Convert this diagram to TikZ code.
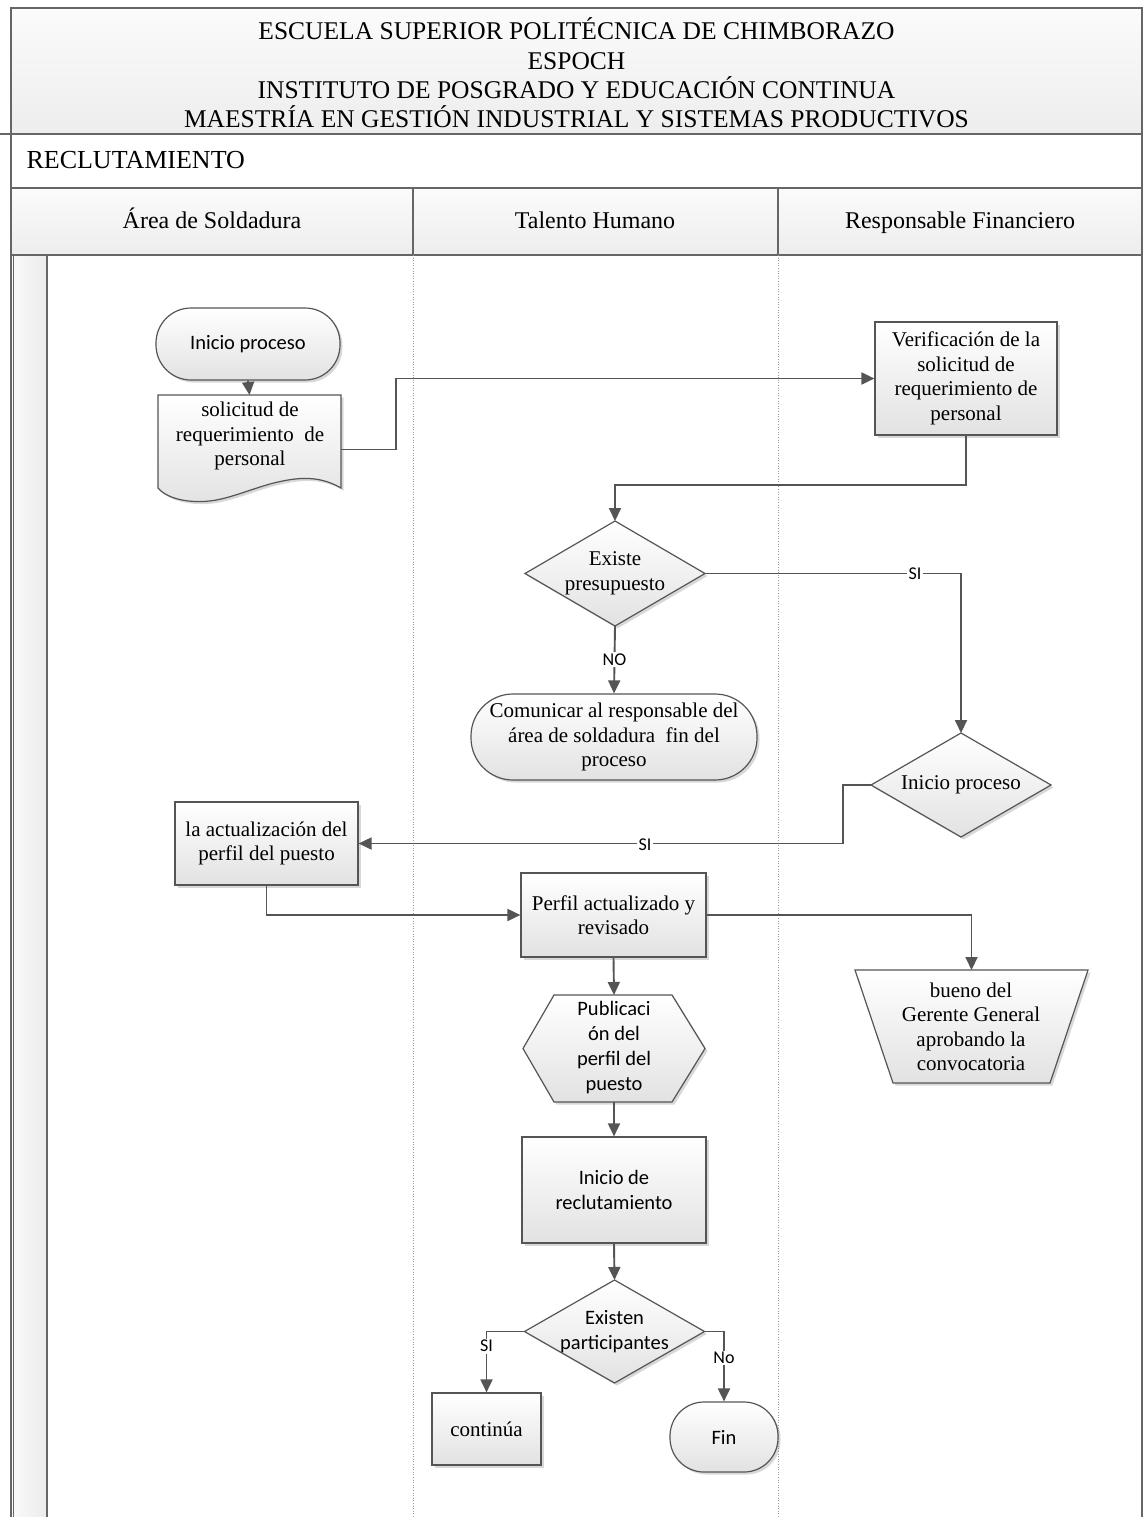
\documentclass[tikz,border=0pt]{standalone}
\usepackage{fontspec}
\setmainfont{Liberation Serif}
\newfontfamily\carl{Carlito}
\usetikzlibrary{arrows.meta,shapes.geometric,shadows,calc}
\definecolor{lc}{HTML}{555555}
\definecolor{fr}{HTML}{666666}
\definecolor{shc}{HTML}{E2E2E2}
\newcommand\mysr{\fontsize{21}{24.5}\selectfont}
\newcommand\myss{\carl\fontsize{20.5}{25}\selectfont}
\begin{document}
\begin{tikzpicture}[x=1pt,y=-1pt,
  frame/.style={draw=fr,line width=1.4pt},
  dotline/.style={draw=gray!80,line width=1pt,dash pattern=on 1pt off 1.6pt},
  shp/.style={draw=lc,line width=1.2pt,top color=white,bottom color=shc,
    drop shadow={opacity=0.3,shadow xshift=2.5pt,shadow yshift=-2.5pt,fill=gray}},
  boxs/.style={shp,rectangle,align=center,inner sep=2pt,font=\mysr},
  ghost/.style={rectangle,draw=none,inner sep=0pt,outer sep=0pt},
  txt/.style={align=center,inner sep=0pt},
  conn/.style={draw=lc,line width=1.9pt,-{Triangle[length=13pt,width=12pt]}},
  lbl/.style={fill=white,inner sep=1.5pt,font=\carl\fontsize{18}{18}\selectfont},
  hdr/.style={anchor=base,font=\fontsize{24}{24}\selectfont}
]
\useasboundingbox (0,0) rectangle (1144,1517);
\fill[white] (0,0) rectangle (1144,1517);
% frame and header
\shade[top color=gray!3,bottom color=gray!14] (11,8) rectangle (1142,134);
\shade[top color=gray!3,bottom color=gray!14] (11,188) rectangle (1142,255);
\shade[left color=gray!4,right color=gray!15] (11,255) rectangle (47,1517);
\draw[frame] (11,1517) -- (11,8) -- (1142,8) -- (1142,1517);
\draw[frame] (0,134) -- (1142,134);
\draw[frame] (11,188) -- (1142,188);
\draw[frame] (11,255) -- (1142,255);
\draw[frame] (413,188) -- (413,255);
\draw[frame] (778,188) -- (778,255);
\draw[frame] (47,255) -- (47,1517);
\draw[frame,line width=0.8pt] (13.5,255) -- (13.5,1517);
\draw[dotline] (413,255) -- (413,1517);
\draw[dotline] (778,255) -- (778,1517);
\node[align=center,font=\fontsize{25.5}{29.3}\selectfont] (title) at (576.5,73)
 {ESCUELA SUPERIOR POLITÉCNICA DE CHIMBORAZO\\ESPOCH\\INSTITUTO DE POSGRADO Y EDUCACIÓN CONTINUA\\MAESTRÍA EN GESTIÓN INDUSTRIAL Y SISTEMAS PRODUCTIVOS};
\node[anchor=base west,font=\fontsize{26}{26}\selectfont] (proc) at (23,169) {RECLUTAMIENTO};
\node[hdr] (lane1) at (212,229) {Área de Soldadura};
\node[hdr] (lane2) at (595,229) {Talento Humano};
\node[hdr] (lane3) at (960,229) {Responsable Financiero};

% nodes
\node[boxs,font=\myss,minimum width=184pt,minimum height=72pt,rounded corners=35pt] (ini) at (248,344) {Inicio proceso};
\node[ghost,minimum width=183pt,minimum height=93pt] (doc) at (249.5,441.5) {};
\path[shp] (doc.north west) -- (doc.north east) -- (doc.south east)
  .. controls (320,476) and (300,476) .. (270,484)
  .. controls (235,494) and (215,506) .. (182,500)
  .. controls (172,498) and (163,494) .. (doc.south west) -- cycle;
\node[txt,font=\mysr] (docT) at (250,436) {solicitud de\\requerimiento~ de\\personal};
\node[boxs,minimum width=182pt,minimum height=113pt] (verif) at (966,378.5) {Verificación de la\\solicitud de\\requerimiento de\\personal};
\node[ghost,minimum width=180pt,minimum height=105pt] (d1) at (615,573.5) {};
\path[shp] (d1.north) -- (d1.east) -- (d1.south) -- (d1.west) -- cycle;
\node[txt,font=\mysr] (d1T) at (d1) {Existe\\presupuesto};
\node[boxs,minimum width=286pt,minimum height=86pt,rounded corners=42pt] (com) at (614,737) {Comunicar al responsable del\\área de soldadura~ fin del\\proceso};
\node[ghost,minimum width=180pt,minimum height=104pt] (d2) at (961,785) {};
\path[shp] (d2.north) -- (d2.east) -- (d2.south) -- (d2.west) -- cycle;
\node[txt,font=\mysr] (d2T) at (d2) {Inicio proceso};
\node[boxs,minimum width=183pt,minimum height=83pt] (act) at (266.5,843.5) {la actualización del\\perfil del puesto};
\node[boxs,minimum width=185pt,minimum height=84pt] (perf) at (613.5,915) {Perfil actualizado y\\revisado};
\node[ghost,minimum width=233pt,minimum height=113pt] (trap) at (971.5,1026.5) {};
\path[shp] (trap.north west) -- (trap.north east) -- ($(trap.south east)+(-38,0)$) -- ($(trap.south west)+(38,0)$) -- cycle;
\node[txt,font=\mysr] (trapT) at (971,1027) {bueno del\\Gerente General\\aprobando la\\convocatoria};
\node[ghost,minimum width=182pt,minimum height=107pt] (hex) at (614,1048.5) {};
\path[shp] ($(hex.north west)+(31,0)$) -- ($(hex.north east)+(-33,0)$) -- (hex.east) -- ($(hex.south east)+(-33,0)$) -- ($(hex.south west)+(31,0)$) -- (hex.west) -- cycle;
\node[txt,font=\myss] (hexT) at (614,1048) {Publicaci\\ón del\\perfil del\\puesto};
\node[boxs,font=\myss,minimum width=184pt,minimum height=106pt] (rec) at (614,1190) {Inicio de\\reclutamiento};
\node[ghost,minimum width=180pt,minimum height=103pt] (d3) at (614.5,1331.5) {};
\path[shp] (d3.north) -- (d3.east) -- (d3.south) -- (d3.west) -- cycle;
\node[txt,font=\myss] (d3T) at (d3) {Existen\\participantes};
\node[boxs,minimum width=109pt,minimum height=72pt] (cont) at (486.5,1429) {continúa};
\node[boxs,font=\myss,minimum width=108pt,minimum height=70pt,rounded corners=34pt] (fin) at (724,1437) {Fin};

% connectors
\draw[conn] (ini.south) -- (doc.north);
\draw[conn] ($(doc.east)+(0,8)$) -- ++(55,0) |- (verif.west);
\draw[conn] (verif.south) -- ++(0,49) -| (d1.north);
\draw[conn] (d1.east) -| node[lbl,pos=0.41] (si1) {SI} (d2.north);
\draw[conn] (d1.south) -- node[lbl,pos=0.5] (no1) {NO} (com.north);
\draw[conn] (d2.west) -- ++(-28,0) |- (act.east);
\node[lbl] (si2) at (645,845) {SI};
\draw[conn] (act.south) |- (perf.west);
\draw[conn] (perf.east) -| (trap.north);
\draw[conn] (perf.south) -- (hex.north);
\draw[conn] (hex.south) -- (rec.north);
\draw[conn] (rec.south) -- (d3.north);
\draw[conn] (d3.west) -| node[lbl,pos=0.62] (si3) {SI} (cont.north);
\draw[conn] (d3.east) -| node[lbl,pos=0.69] (no2) {No} (fin.north);
\end{tikzpicture}
\end{document}
